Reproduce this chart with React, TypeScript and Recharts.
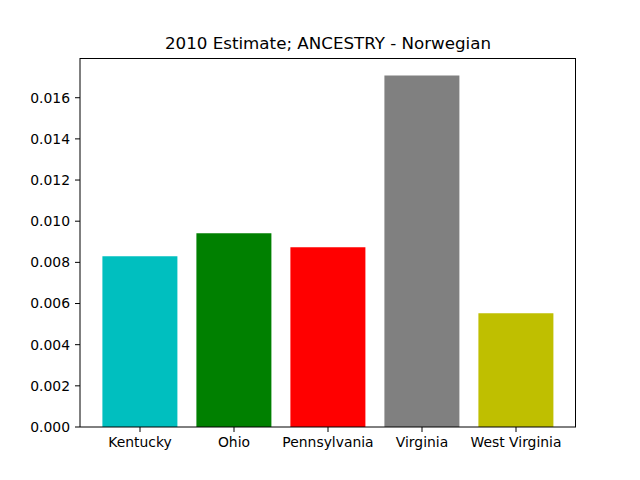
import React from 'react';
import { BarChart, Bar, XAxis, YAxis, Cell } from 'recharts';

const states = ['Kentucky', 'Ohio', 'Pennsylvania', 'Virginia', 'West Virginia'];
const values = [0.0083, 0.00942, 0.00874, 0.01708, 0.00553];
const barColors = ['#00bfbf', '#008000', '#ff0000', '#808080', '#bfbf00'];
const yTicks = [0, 0.002, 0.004, 0.006, 0.008, 0.01, 0.012, 0.014, 0.016];

const chartData = states.map((name, i) => ({ name, value: values[i] }));

const FONT = 'DejaVu Sans, sans-serif';
const tickStyle = { fill: '#000', fontSize: 13.9, fontFamily: FONT };

export default function App() {
  return (
    <div style={{ position: 'absolute', left: 0, top: 0, width: 640, height: 480, background: '#fff' }}>
      <div
        style={{
          position: 'absolute',
          left: 80,
          top: 33,
          width: 496,
          textAlign: 'center',
          fontFamily: FONT,
          fontSize: 16.7,
          lineHeight: '20px',
          color: '#000'
        }}
      >
        2010 Estimate; ANCESTRY - Norwegian
      </div>
      <BarChart
        width={640}
        height={480}
        data={chartData}
        margin={{ top: 58, right: 64, left: 0, bottom: 0 }}
        barCategoryGap="10%"
      >
        <XAxis
          dataKey="name"
          height={53}
          padding={{ left: 13, right: 13 }}
          tick={tickStyle}
          tickSize={5}
          tickMargin={5}
          interval={0}
          axisLine={{ stroke: '#000' }}
          tickLine={{ stroke: '#000' }}
        />
        <YAxis
          width={80}
          domain={[0, 0.01793]}
          ticks={yTicks}
          tickFormatter={(v: number) => v.toFixed(3)}
          tick={tickStyle}
          tickSize={5}
          tickMargin={5}
          axisLine={{ stroke: '#000' }}
          tickLine={{ stroke: '#000' }}
          allowDataOverflow
        />
        <Bar dataKey="value" isAnimationActive={false}>
          {chartData.map((d, i) => (
            <Cell key={d.name} fill={barColors[i]} />
          ))}
        </Bar>
      </BarChart>
      {/* top and right spines */}
      <div
        style={{
          position: 'absolute',
          left: 80,
          top: 58,
          width: 496,
          height: 369,
          borderTop: '1px solid #000',
          borderRight: '1px solid #000',
          boxSizing: 'border-box',
          pointerEvents: 'none'
        }}
      />
    </div>
  );
}
